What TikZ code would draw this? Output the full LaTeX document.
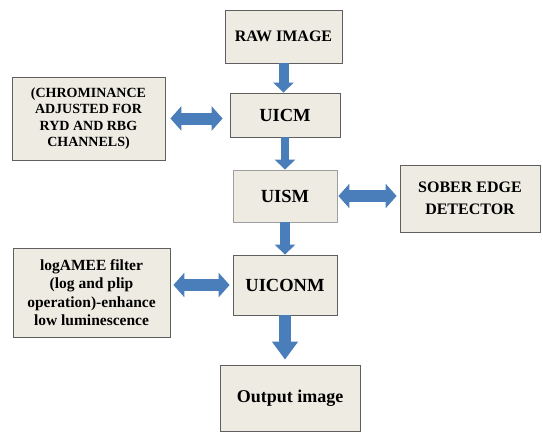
\documentclass[tikz,border=0pt]{standalone}
\usepackage{fontspec}
\setmainfont{Liberation Serif}
\newfontfamily\boxfont{Liberation Serif}
\usetikzlibrary{arrows.meta}
\definecolor{boxfill}{RGB}{238,236,226}
\definecolor{boxline}{RGB}{95,95,95}
\definecolor{arrowblue}{RGB}{74,126,187}
\begin{document}
\begin{tikzpicture}[x=1pt,y=-1pt,
	blockbox/.style={draw=boxline,fill=boxfill,line width=0.8pt,inner sep=2pt,align=center},
	downarrow/.style={draw=arrowblue,line width=10pt,-{Triangle[width=20pt,length=10pt]}},
	botharrow/.style={draw=arrowblue,line width=12pt,{Triangle[width=24pt,length=11pt]}-{Triangle[width=24pt,length=11pt]}}]
	\useasboundingbox (0,0) rectangle (543,432);
	
	\node[blockbox,minimum width=117pt,minimum height=53pt,font=\boxfont\bfseries\fontsize{16}{18}\selectfont] (raw) at (283.5,36.5) {RAW IMAGE};
	\node[blockbox,minimum width=110pt,minimum height=44pt,font=\boxfont\bfseries\fontsize{18.5}{20}\selectfont] (uicm) at (285,115) {UICM};
	\node[blockbox,draw=boxline!60,minimum width=104pt,minimum height=52pt,font=\boxfont\bfseries\fontsize{18.5}{20}\selectfont] (uism) at (285,196) {UISM};
	\node[blockbox,minimum width=104pt,minimum height=60pt,font=\boxfont\bfseries\fontsize{18.5}{20}\selectfont] (uiconm) at (285,285) {UICONM};
	\node[blockbox,minimum width=140pt,minimum height=66pt,font=\boxfont\bfseries\fontsize{18}{20}\selectfont] (out) at (290,398) {Output image};
	
	\node[blockbox,minimum width=153pt,minimum height=83pt,font=\boxfont\bfseries\fontsize{14}{16.5}\selectfont] (chroma) at (88.5,118.5) {(CHROMINANCE\\ADJUSTED FOR\\RYD AND RBG\\CHANNELS)};
	\node[blockbox,minimum width=140pt,minimum height=67pt,font=\boxfont\bfseries\fontsize{16}{22}\selectfont] (sober) at (470,198.5) {SOBER EDGE\\DETECTOR};
	\node[blockbox,minimum width=157pt,minimum height=89pt,font=\boxfont\bfseries\fontsize{15.5}{18.5}\selectfont] (logamee) at (91.5,292.5) {logAMEE filter\\(log and plip\\operation)-enhance\\low luminescence};
	
	\draw[downarrow] (raw.south) -- (raw.south |- uicm.north);
	\draw[downarrow,line width=8pt] (uicm.south) -- (uism.north);
	\draw[downarrow] (uism.south) -- (uiconm.north);
	\draw[downarrow,line width=12pt,-{Triangle[width=25pt,length=18pt]},shorten >=5pt] (uiconm.south) -- (uiconm.south |- out.north);
	
	\draw[botharrow,shorten <=5pt,shorten >=7pt] (chroma.east) -- (chroma.east -| uicm.west);
	\draw[botharrow,shorten <=1pt,shorten >=3pt] (uism.east) -- (uism.east -| sober.west);
	\draw[botharrow,shorten <=3pt,shorten >=3pt] (logamee.east |- uiconm.west) -- (uiconm.west);
\end{tikzpicture}
\end{document}
